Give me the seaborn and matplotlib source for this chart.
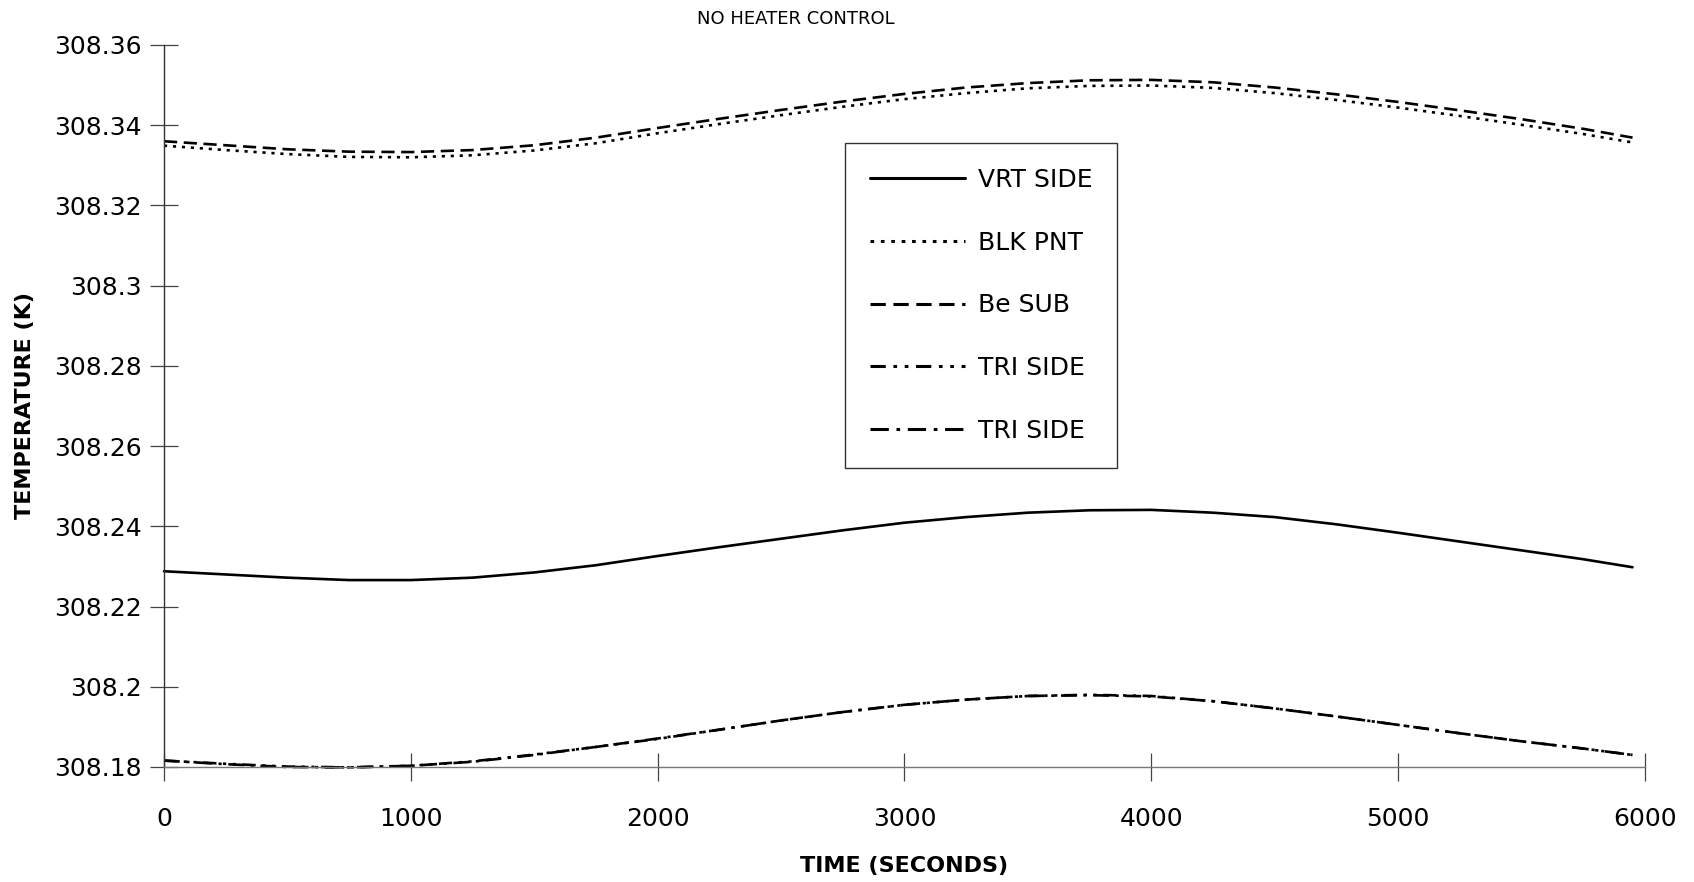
"""
No heater control: node temperatures vs time.
"""

import numpy as np
import pandas as pd
import matplotlib
matplotlib.use("Agg")
import matplotlib.pyplot as plt
from matplotlib.ticker import MultipleLocator, FuncFormatter
import seaborn as sns

# ==========================================
# Data
# ==========================================
time_s = [0, 250, 500, 750, 1000, 1250, 1500, 1750, 2000, 2250, 2500, 2750, 3000,
          3250, 3500, 3750, 4000, 4250, 4500, 4750, 5000, 5250, 5500, 5750, 5950]

vrt_side = [308.2288, 308.2280, 308.2272, 308.2266, 308.2266, 308.2272, 308.2285,
            308.2303, 308.2326, 308.2348, 308.2369, 308.2390, 308.2409, 308.2423,
            308.2434, 308.2440, 308.2441, 308.2434, 308.2423, 308.2405, 308.2384,
            308.2362, 308.2340, 308.2318, 308.2298]
blk_pnt = [308.3349, 308.3338, 308.3328, 308.3321, 308.3320, 308.3325, 308.3337,
           308.3355, 308.3380, 308.3403, 308.3425, 308.3446, 308.3465, 308.3480,
           308.3492, 308.3498, 308.3499, 308.3493, 308.3480, 308.3463, 308.3444,
           308.3423, 308.3401, 308.3378, 308.3357]
be_sub = [308.3360, 308.3350, 308.3340, 308.3334, 308.3333, 308.3338, 308.3350,
          308.3369, 308.3393, 308.3416, 308.3438, 308.3459, 308.3478, 308.3494,
          308.3505, 308.3512, 308.3513, 308.3507, 308.3494, 308.3477, 308.3458,
          308.3437, 308.3415, 308.3391, 308.3369]
tri_side_a = [308.1816, 308.1808, 308.1801, 308.1799, 308.1803, 308.1814, 308.1831,
              308.1850, 308.1870, 308.1893, 308.1916, 308.1937, 308.1955, 308.1968,
              308.1977, 308.1980, 308.1977, 308.1964, 308.1946, 308.1926, 308.1905,
              308.1884, 308.1864, 308.1846, 308.1830]
tri_side_b = [308.1816, 308.1807, 308.1800, 308.1799, 308.1803, 308.1813, 308.1830,
              308.1850, 308.1871, 308.1893, 308.1916, 308.1937, 308.1955, 308.1968,
              308.1977, 308.1979, 308.1976, 308.1964, 308.1946, 308.1926, 308.1905,
              308.1884, 308.1864, 308.1846, 308.1830]

series_names = ["VRT SIDE", "BLK PNT", "Be SUB", "TRI SIDE", "TRI SIDE"]
series_vals = [vrt_side, blk_pnt, be_sub, tri_side_a, tri_side_b]

LINESTYLES = [
    "-",
    (0, (1.2, 2.2)),
    (0, (5, 2.5)),
    (0, (5, 2.5, 1.2, 2.5, 1.2, 2.5)),
    (0, (6, 2.5, 1.2, 2.5)),
]

# ==========================================
# Style
# ==========================================
sns.set_style("ticks")
plt.rcParams["font.family"] = ["DejaVu Sans"]
plt.rcParams["text.color"] = "black"
plt.rcParams["axes.labelcolor"] = "black"

fig = plt.figure(figsize=(16.94, 8.82), dpi=100)
ax = fig.add_axes([0.0968, 0.1304, 0.8742, 0.8186])

for name, vals, ls in zip(series_names, series_vals, LINESTYLES):
    df = pd.DataFrame({"t": time_s, "T": vals})
    sns.lineplot(data=df, x="t", y="T", ax=ax, color="black", linewidth=1.9,
                 linestyle=ls, label=name, clip_on=False)

# --- Axes ---
ax.set_xlim(0, 6000)
ax.set_ylim(308.18, 308.36)
ax.xaxis.set_major_locator(MultipleLocator(1000))
ax.yaxis.set_major_locator(MultipleLocator(0.02))
ax.yaxis.set_major_formatter(FuncFormatter(lambda v, _: f"{v:g}"))

ax.tick_params(axis="both", direction="inout", length=20, width=0.9,
               color="#444444", labelsize=18, labelcolor="black")
ax.tick_params(axis="x", pad=19)
ax.tick_params(axis="y", pad=6)

for side in ["top", "right"]:
    ax.spines[side].set_visible(False)
ax.spines["left"].set_color("#333333")
ax.spines["bottom"].set_color("#777777")
ax.spines["left"].set_linewidth(1.0)
ax.spines["bottom"].set_linewidth(1.0)

ax.set_xlabel("TIME (SECONDS)", fontsize=16, fontweight="bold", labelpad=18)
ax.set_ylabel("TEMPERATURE (K)", fontsize=16, fontweight="bold", labelpad=14)

fig.text(0.47, 0.978, "NO HEATER CONTROL", fontsize=13, ha="center", va="center")

leg = ax.legend(loc="upper left", bbox_to_anchor=(0.499, 0.838),
                bbox_transform=fig.transFigure, borderaxespad=0,
                fontsize=18, handlelength=3.8, handletextpad=0.5,
                labelspacing=1.55, borderpad=1.0, frameon=True, fancybox=False)
leg.get_frame().set_edgecolor("black")
leg.get_frame().set_linewidth(1.0)
for line in leg.get_lines():
    line.set_linewidth(2.2)

fig.savefig("out.png", dpi=100)
